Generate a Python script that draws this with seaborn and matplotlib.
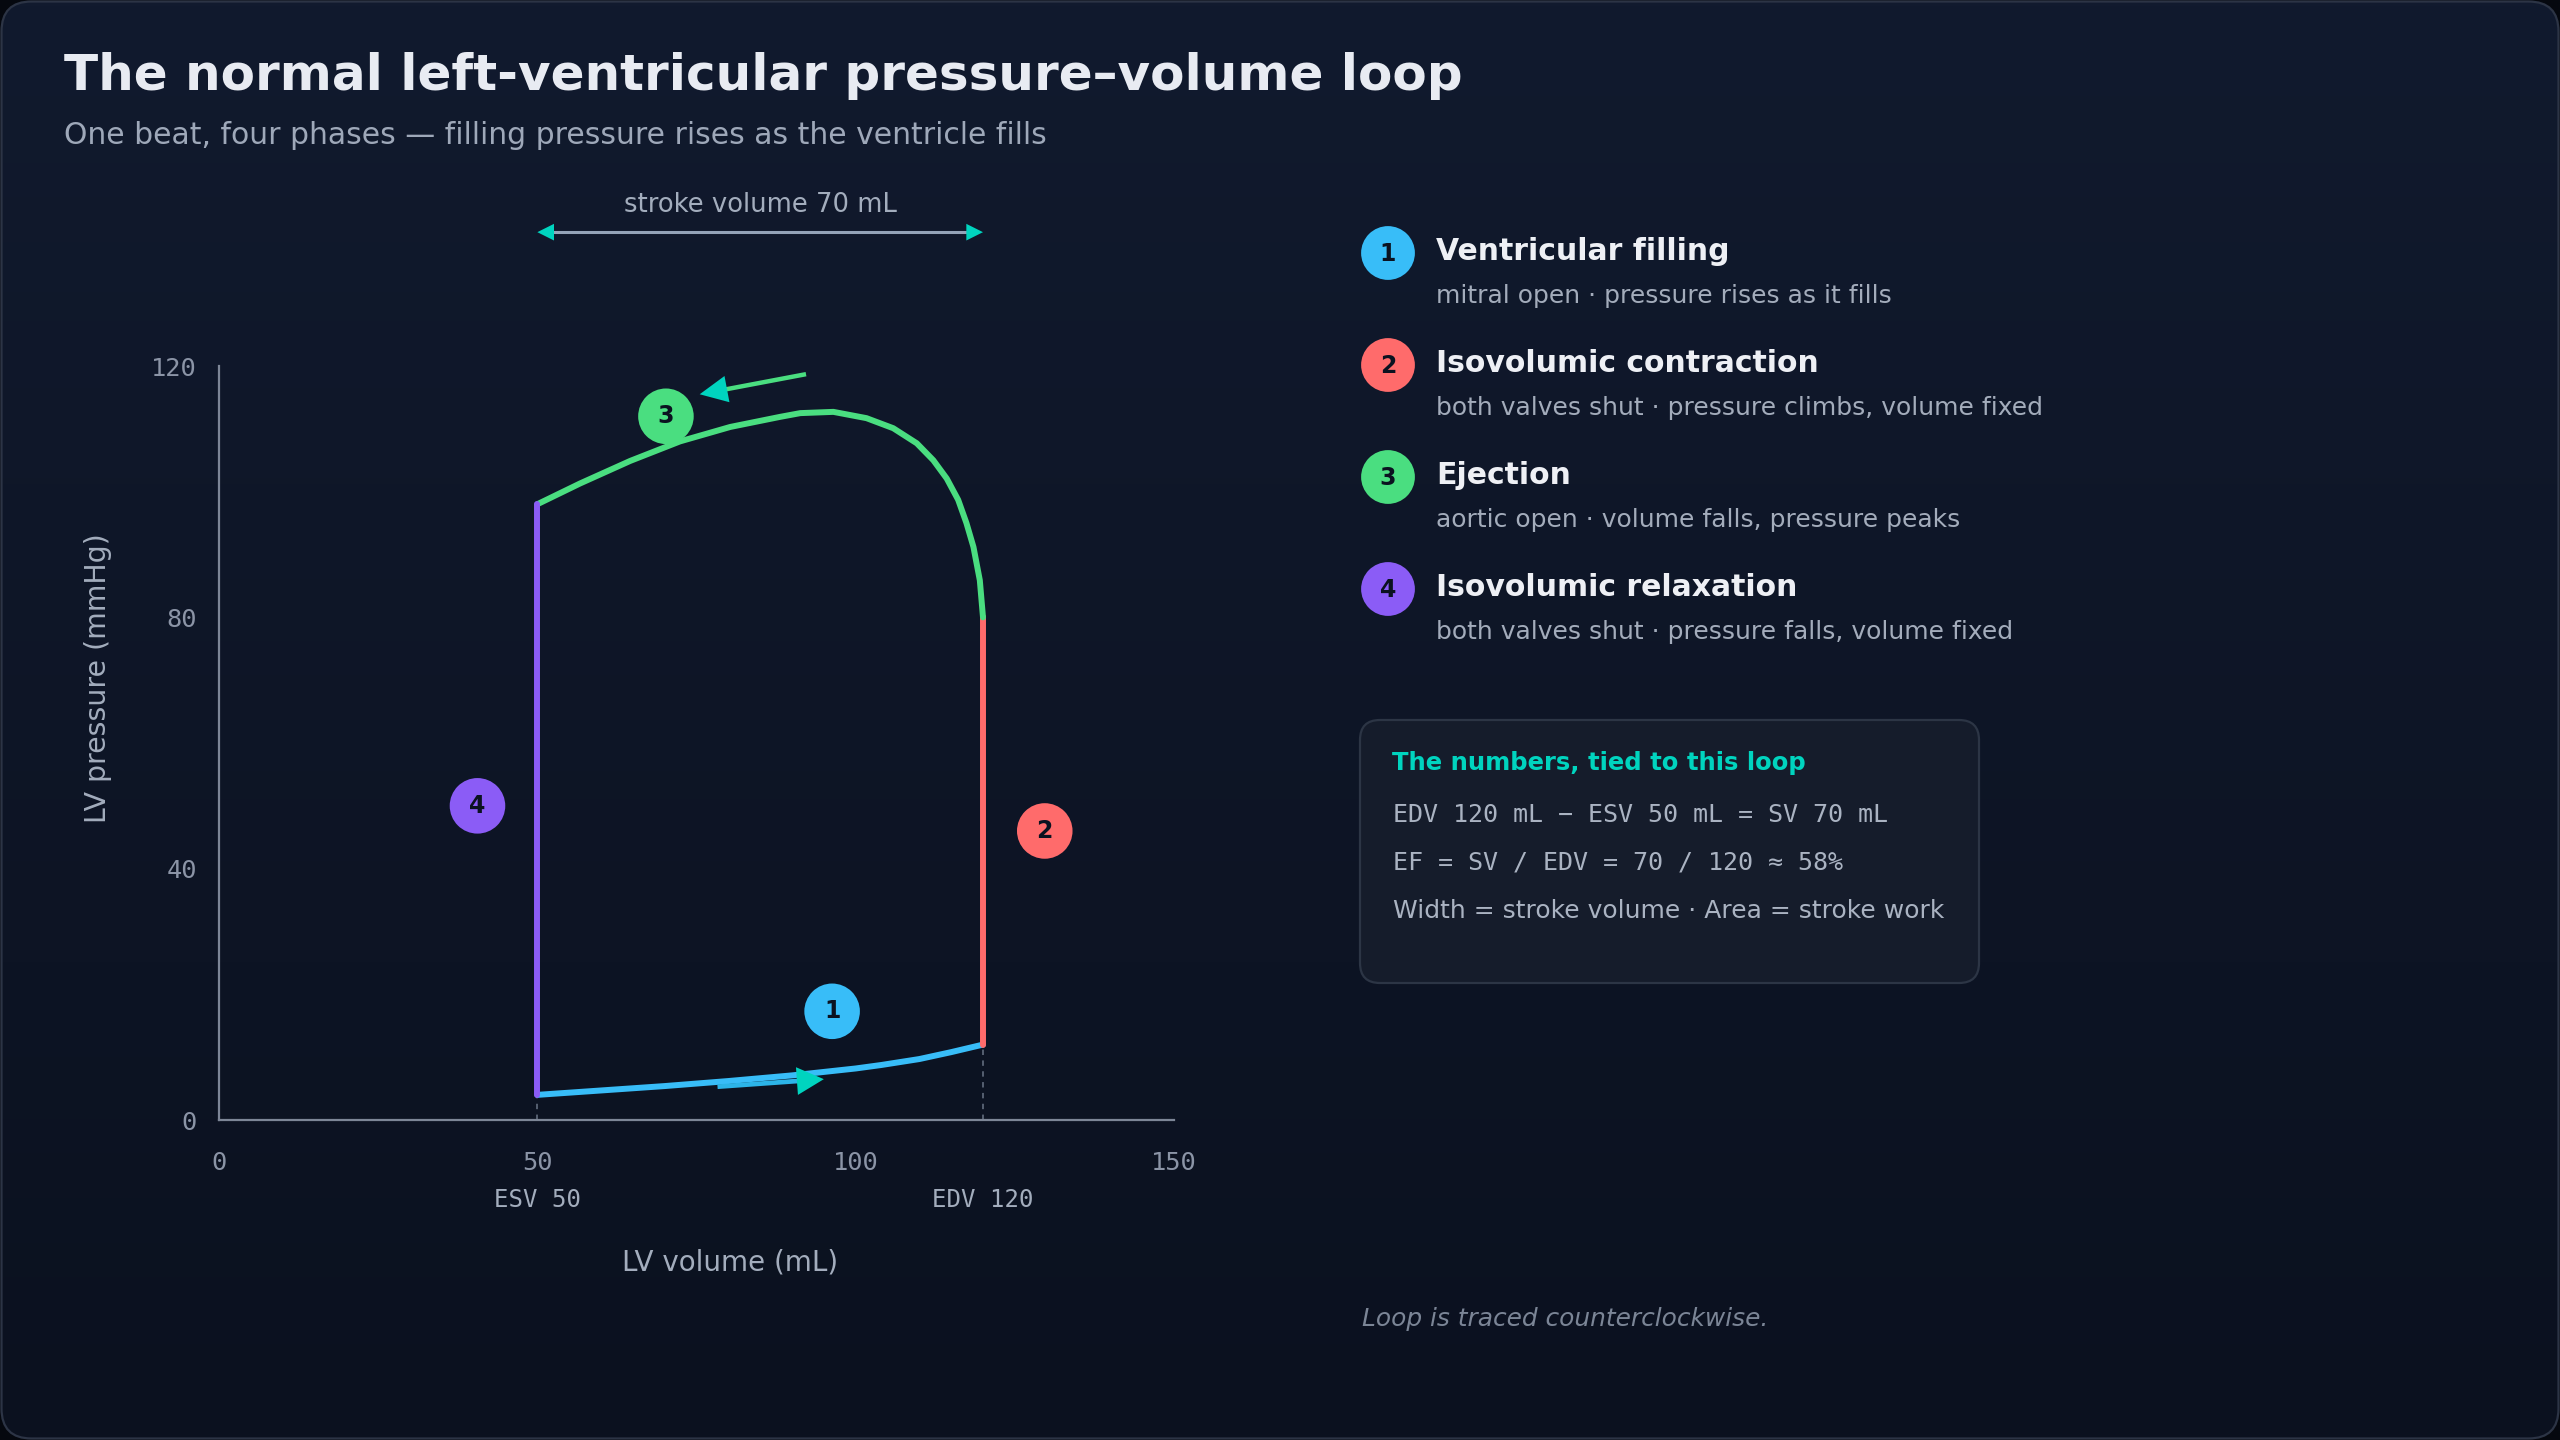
import numpy as np
import pandas as pd
import matplotlib
matplotlib.use("Agg")
import matplotlib.pyplot as plt
import seaborn as sns
from matplotlib.patches import FancyBboxPatch
from matplotlib.colors import LinearSegmentedColormap
import matplotlib.transforms as mtransforms

# ---------------- data ----------------
fill_vol = [50, 60, 70, 80, 90, 100, 104, 110, 115, 120]
fill_p = [4.0, 4.7, 5.4, 6.2, 7.1, 8.2, 8.75, 9.7, 10.8, 12.0]
contr_vol = [120, 120]
contr_p = [12.0, 80.0]
eject_vol = [120.0, 119.5, 118.5, 117.4, 116.1, 114.3, 112.2, 109.6, 105.9, 101.7, 96.5,
             91.3, 88.1, 80.3, 72.4, 64.6, 56.7, 50.0]
eject_p = [80.0, 85.9, 91.2, 95.0, 98.7, 102.1, 105.0, 107.7, 110.1, 111.7, 112.7,
           112.5, 111.9, 110.3, 108.0, 104.9, 101.3, 98.0]
relax_vol = [50, 50]
relax_p = [98.0, 4.0]

ESV = 50
EDV = 120
SV = 70

phase_nums = ["1", "2", "3", "4"]
phase_titles = ["Ventricular filling", "Isovolumic contraction", "Ejection", "Isovolumic relaxation"]
phase_desc = ["mitral open \u00b7 pressure rises as it fills",
              "both valves shut \u00b7 pressure climbs, volume fixed",
              "aortic open \u00b7 volume falls, pressure peaks",
              "both valves shut \u00b7 pressure falls, volume fixed"]
phase_colors = ["#38bdf8", "#ff6b6b", "#4ade80", "#8b5cf6"]
badge_vol = [96.3, 129.7, 70.2, 40.6]
badge_p = [17.3, 46.0, 112.0, 50.0]

x_ticks = [0, 50, 100, 150]
y_ticks = [0, 40, 80, 120]

title = "The normal left-ventricular pressure\u2013volume loop"
subtitle = "One beat, four phases \u2014 filling pressure rises as the ventricle fills"
box_title = "The numbers, tied to this loop"
box_lines = ["EDV 120 mL \u2212 ESV 50 mL = SV 70 mL",
             "EF = SV / EDV = 70 / 120 \u2248 58%"]
box_last = "Width = stroke volume \u00b7 Area = stroke work"
footnote = "Loop is traced counterclockwise."

TEAL = "#00d4bf"
AXC = "#7d8697"
TICKC = "#8b94a6"

sns.set_theme(style="dark")
plt.rcParams["font.family"] = ["DejaVu Sans"]

fig = plt.figure(figsize=(25.6, 14.4), dpi=100)
fig.patch.set_facecolor("#05080f")

# ---------- background panel ----------
bg = fig.add_axes([0, 0, 1, 1], zorder=-10)
bg.set_xlim(0, 2560)
bg.set_ylim(1440, 0)
bg.axis("off")
grad = np.linspace(0, 1, 256)[:, None]
cmap = LinearSegmentedColormap.from_list("bg", ["#111a2e", "#0b111f"])
im = bg.imshow(grad, extent=[0, 2560, 1440, 0], cmap=cmap, aspect="auto", zorder=0)
panel = FancyBboxPatch((1.5, 1.5), 2557, 1437, boxstyle="round,pad=0,rounding_size=30",
                       fc="none", ec="#2c3445", lw=1.6, zorder=1)
bg.add_patch(panel)
im.set_clip_path(panel)

bg.text(64, 76, title, fontsize=36, weight="bold", color="#e8ebf2", va="center", ha="left")
bg.text(64, 135, subtitle, fontsize=21.5, color="#9ea8b9", va="center", ha="left")

# legend
leg_y = [253, 365, 477, 589]
for i in range(4):
    y = leg_y[i]
    bg.scatter([1388], [y], s=1500, color=phase_colors[i], edgecolors="none", zorder=3)
    bg.text(1388, y + 1, phase_nums[i], fontsize=17, weight="bold", color="#0b1220",
            ha="center", va="center", zorder=4)
    bg.text(1436, y - 2, phase_titles[i], fontsize=21.5, weight="bold", color="#eef0f5",
            ha="left", va="center")
    bg.text(1436, y + 43, phase_desc[i], fontsize=18, color="#a3acbb", ha="left", va="center")

# numbers box
box = FancyBboxPatch((1360, 720), 619, 263, boxstyle="round,pad=0,rounding_size=20",
                     fc="#151c2b", ec="#2c3545", lw=1.6, zorder=2)
bg.add_patch(box)
bg.text(1392, 763, box_title, fontsize=17.5, weight="bold", color=TEAL, ha="left", va="center", zorder=3)
for j, line in enumerate(box_lines):
    bg.text(1393, 815 + 48 * j, line, fontsize=18, family="DejaVu Sans Mono", color="#aab3c2",
            ha="left", va="center", zorder=3)
bg.text(1393, 911, box_last, fontsize=18, color="#aab3c2", ha="left", va="center", zorder=3)

bg.text(1362, 1319, footnote, fontsize=17.9, style="italic", color="#7b8596", ha="left", va="center")

# ---------- main chart ----------
ax = fig.add_axes([219 / 2560, 320 / 1440, 955 / 2560, 754 / 1440])
ax.set_facecolor("none")
ax.set_xlim(0, 150)
ax.set_ylim(0, 120)

segs = [(fill_vol, fill_p), (contr_vol, contr_p), (eject_vol, eject_p), (relax_vol, relax_p)]
for k, (vx, vy) in enumerate(segs):
    df = pd.DataFrame({"vol": vx, "p": vy})
    sns.lineplot(data=df, x="vol", y="p", sort=False, estimator=None, color=phase_colors[k],
                 lw=4.3, ax=ax, zorder=3 + k)
for ln in ax.get_lines():
    ln.set_solid_joinstyle("round")

# dashed guide lines
ax.plot([ESV, ESV], [0, fill_p[0]], ls=(0, (3, 3)), color="#5b6577", lw=1.3, zorder=2)
ax.plot([EDV, EDV], [0, fill_p[-1]], ls=(0, (3, 3)), color="#5b6577", lw=1.3, zorder=2)

# badges
sns.scatterplot(x=badge_vol, y=badge_p, hue=phase_nums, palette=phase_colors, s=1600,
                edgecolor="none", legend=False, ax=ax, zorder=8, clip_on=False)
for i in range(4):
    ax.text(badge_vol[i], badge_p[i], phase_nums[i], fontsize=17, weight="bold", color="#0b1220",
            ha="center", va="center", zorder=9)

# direction arrows
def dir_arrow(start, tip, shaft_color, shaft_lw, hl, hw):
    f = 0.8
    ax.plot([start[0], start[0] + (tip[0] - start[0]) * f], [start[1], start[1] + (tip[1] - start[1]) * f],
            color=shaft_color, lw=shaft_lw, zorder=10, solid_capstyle="butt", clip_on=False)
    ax.annotate("", xy=tip, xytext=start,
                arrowprops=dict(arrowstyle=f"-|>,head_length={hl},head_width={hw}", color=TEAL,
                                lw=0, shrinkA=0, shrinkB=0, mutation_scale=20),
                zorder=11, annotation_clip=False)

dir_arrow((78.3, 5.3), (95.0, 6.5), "#2cb4e8", 3.4, 0.97, 0.5)
dir_arrow((92.2, 118.7), (75.5, 115.5), "#4ade80", 3.2, 1.0, 0.48)

# stroke-volume span
SPAN_P = 141.3
ax.plot([ESV + 2.5, EDV - 2.5], [SPAN_P, SPAN_P], color="#94a3b8", lw=2.2, zorder=5, clip_on=False)
for a, b in [(ESV, ESV + 4), (EDV, EDV - 4)]:
    ax.annotate("", xy=(a, SPAN_P), xytext=(b, SPAN_P),
                arrowprops=dict(arrowstyle="-|>,head_length=0.6,head_width=0.3", color=TEAL,
                                lw=0, shrinkA=0, shrinkB=0, mutation_scale=20),
                annotation_clip=False, zorder=6)
ax.text((ESV + EDV) / 2, 145.6, f"stroke volume {SV} mL", fontsize=18.6, color="#a3adbd",
        ha="center", va="center", clip_on=False)

# axes styling
for s in ["top", "right"]:
    ax.spines[s].set_visible(False)
for s in ["left", "bottom"]:
    ax.spines[s].set_color(AXC)
    ax.spines[s].set_linewidth(1.6)
ax.grid(False)
ax.set_xticks(x_ticks)
ax.set_yticks(y_ticks)
ax.set_xticklabels([str(v) for v in x_ticks])
ax.set_yticklabels([str(v) for v in y_ticks])
ax.tick_params(axis="x", length=8, width=1.4, color=AXC, pad=14, labelsize=18.3, labelcolor=TICKC)
ax.tick_params(axis="y", length=7, width=1.4, color=AXC, pad=9, labelsize=18.3, labelcolor=TICKC)
for lbl in ax.get_xticklabels() + ax.get_yticklabels():
    lbl.set_fontfamily("DejaVu Sans Mono")

trans = mtransforms.blended_transform_factory(ax.transData, ax.transAxes)
ax.text(ESV, -0.106, f"ESV {ESV}", transform=trans, fontsize=17.3, family="DejaVu Sans Mono",
        color="#a3adbd", ha="center", va="center")
ax.text(EDV, -0.106, f"EDV {EDV}", transform=trans, fontsize=17.3, family="DejaVu Sans Mono",
        color="#a3adbd", ha="center", va="center")

ax.set_xlabel("LV volume (mL)", fontsize=20, color="#a3adbd")
ax.set_ylabel("LV pressure (mmHg)", fontsize=20.4, color="#a3adbd")
ax.xaxis.label.set_va("center")
ax.yaxis.label.set_va("center")
ax.xaxis.set_label_coords((730 - 219) / 955, (1120 - 1262) / 754)
ax.yaxis.set_label_coords((98 - 219) / 955, (1120 - 678) / 754)

fig.savefig("out.png", dpi=100, facecolor=fig.get_facecolor())
